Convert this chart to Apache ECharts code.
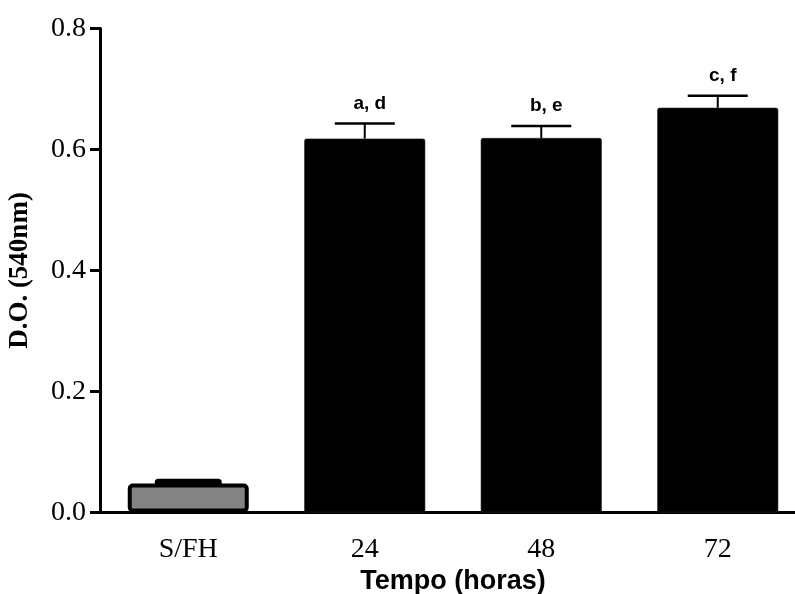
<!DOCTYPE html>
<html>
<head>
<meta charset="utf-8">
<script src="https://cdn.jsdelivr.net/npm/echarts@6/dist/echarts.min.js"></script>
<style>
  html, body { margin: 0; padding: 0; background: #fff; }
  #chart { width: 795px; height: 594px; }
</style>
</head>
<body>
<div id="chart"></div>
<script>
// Optical density at 540 nm over time (mean ± SEM)
const categories = ['S/FH', '24', '48', '72'];
const means = [0.048, 0.618, 0.619, 0.669];
const errors = [0.002, 0.025, 0.020, 0.020];
const letters = ['', 'a, d', 'b, e', 'c, f'];
const yTicks = [0, 0.2, 0.4, 0.6, 0.8];

const serif = '"Liberation Serif", "Times New Roman", serif';
const sans = '"Liberation Sans", Arial, sans-serif';

const chart = echarts.init(document.getElementById('chart'), null, { renderer: 'canvas' });

// control bar (index 0) is grey with a heavy outline, the rest are solid black
const barData = means.map((v, i) => i === 0
  ? { value: v, itemStyle: { color: '#838383', borderColor: '#000', borderWidth: 4, borderRadius: 3 } }
  : { value: v, itemStyle: { color: '#000', borderColor: '#222', borderWidth: 0.6, borderRadius: 2 } });

const option = {
  animation: false,
  backgroundColor: '#fff',
  grid: { left: 100, width: 706, top: 28.5, height: 484, containLabel: false, outerBoundsMode: 'none' },
  xAxis: {
    type: 'category',
    data: categories,
    name: 'Tempo (horas)',
    nameLocation: 'middle',
    nameGap: 54,
    nameTextStyle: { fontFamily: sans, fontWeight: 'bold', fontSize: 27, color: '#000' },
    axisLine: { lineStyle: { color: '#000', width: 3 } },
    axisTick: { alignWithLabel: true, length: 10, lineStyle: { color: '#000', width: 3 } },
    axisLabel: { fontFamily: serif, fontSize: 28, color: '#000', margin: 23 }
  },
  yAxis: {
    type: 'value',
    min: yTicks[0],
    max: yTicks[yTicks.length - 1],
    interval: 0.2,
    name: 'D.O. (540nm)',
    nameLocation: 'middle',
    nameGap: 66,
    nameRotate: 90,
    nameTextStyle: { fontFamily: serif, fontWeight: 'bold', fontSize: 27, color: '#000' },
    splitLine: { show: false },
    axisLine: { show: true, lineStyle: { color: '#000', width: 3 } },
    axisTick: { show: true, length: 10, lineStyle: { color: '#000', width: 3 } },
    axisLabel: { fontFamily: serif, fontSize: 28, color: '#000', margin: 14,
      formatter: v => v.toFixed(1) }
  },
  series: [
    {
      type: 'bar',
      data: barData,
      barWidth: 121,
      z: 2
    },
    {
      // error bars plus significance letters above each cap
      type: 'custom',
      z: 3,
      data: means.map((m, i) => [i, m, errors[i]]),
      renderItem: (params, api) => {
        const i = api.value(0);
        const m = api.value(1);
        const e = api.value(2);
        const label = letters[i];
        const base = api.coord([i, m]);
        const top = api.coord([i, m + e]);
        const half = 30;
        const control = i === 0;
        const children = [
          { type: 'line', shape: { x1: base[0], y1: base[1], x2: top[0], y2: top[1] },
            style: { stroke: '#000', lineWidth: control ? 7 : 2 } },
          { type: 'line', shape: { x1: top[0] - half, y1: top[1], x2: top[0] + half, y2: top[1] },
            style: { stroke: '#000', lineWidth: control ? 7 : 2.5, lineCap: control ? 'round' : 'butt' } }
        ];
        if (label) {
          children.push({
            type: 'text',
            x: top[0] + 5,
            y: top[1] - 20,
            style: { text: label, fontFamily: sans, fontWeight: 'bold', fontSize: 19,
              fill: '#000', align: 'center', verticalAlign: 'middle' }
          });
        }
        return { type: 'group', children };
      }
    }
  ]
};

chart.setOption(option);
</script>
</body>
</html>
